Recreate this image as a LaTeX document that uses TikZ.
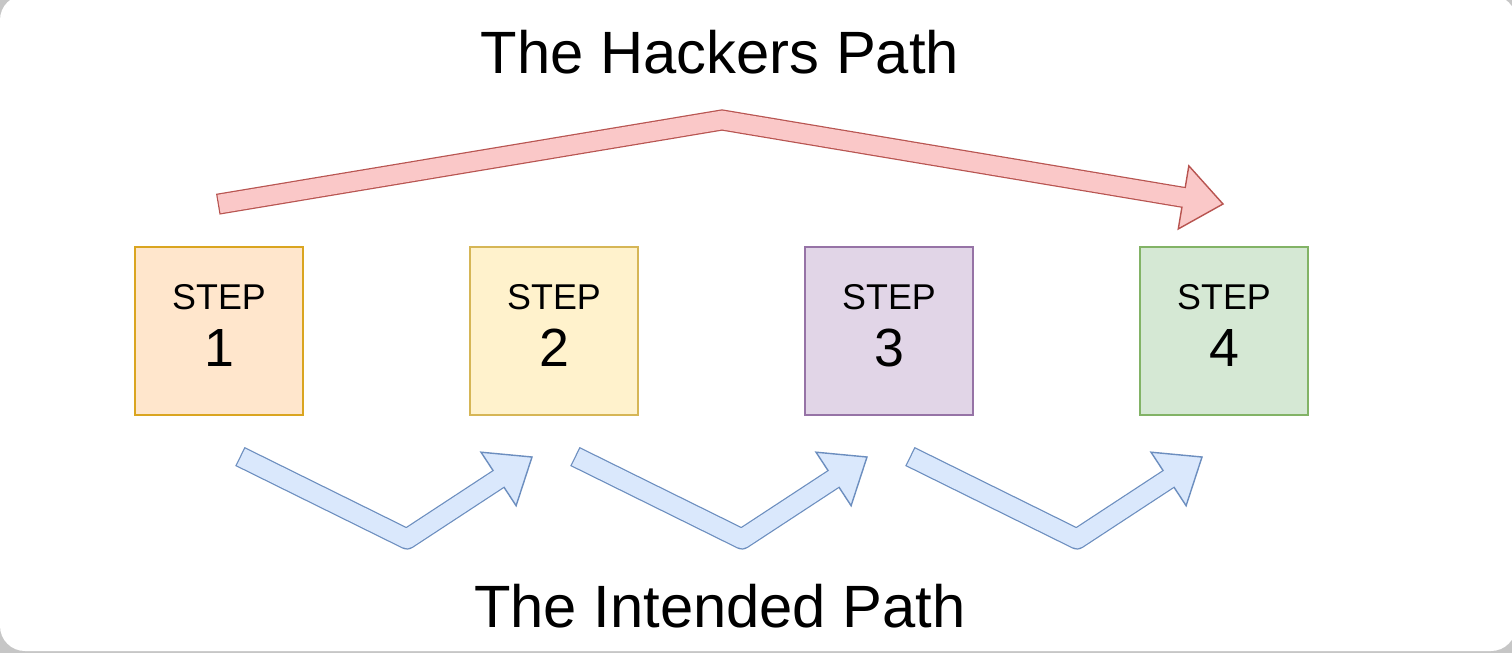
\documentclass[tikz,border=0pt]{standalone}
\usepackage{fontspec}
\setmainfont{Liberation Sans}
\usetikzlibrary{calc}
\definecolor{oneF}{HTML}{FFE6CC}\definecolor{oneD}{HTML}{DAA520}
\definecolor{twoF}{HTML}{FFF2CC}\definecolor{twoD}{HTML}{D6B656}
\definecolor{thrF}{HTML}{E1D5E7}\definecolor{thrD}{HTML}{9673A6}
\definecolor{fouF}{HTML}{D5E8D4}\definecolor{fouD}{HTML}{82B366}
\definecolor{redF}{HTML}{FAC8C8}\definecolor{redD}{HTML}{B85450}
\definecolor{bluF}{HTML}{DAE8FC}\definecolor{bluD}{HTML}{6C8EBF}
\newcommand{\fatarrow}[6]{%
  \coordinate (#3-b) at ($(#3)!0.8cm!(#2)$);
  \coordinate (#3-l) at ($(#3-b)!0.64cm!90:(#3)$);
  \coordinate (#3-r) at ($(#3-b)!0.64cm!-90:(#3)$);
  \draw[draw=#5, line width=12pt, line join=#6] ($(#1)!-0.7pt!(#2)$) -- (#2) -- (#3-b);
  \filldraw[fill=#4, draw=#5, line width=0.8pt, line join=miter] (#3-l) -- (#3) -- (#3-r) -- cycle;
  \draw[draw=#4, line width=10.6pt, line join=#6] (#1) -- (#2) -- ($(#3-b)!0.15!(#3)$);
}
\begin{document}
\begin{tikzpicture}[x=0.02cm,y=-0.02cm,
  stepbox/.style={draw, line width=0.85pt, minimum width=3.36cm, minimum height=3.36cm, inner sep=0pt},
  steplbl/.style={anchor=base, inner sep=0pt, font=\fontsize{20.4}{24}\selectfont},
  stepnum/.style={anchor=base, inner sep=0pt, font=\fontsize{30.6}{36}\selectfont},
  title/.style={anchor=base, inner sep=0pt, font=\fontsize{34}{40}\selectfont}]
\useasboundingbox (0,0) rectangle (1512,653);
\fill[gray!45] (0,0) rectangle (1512,653);
\fill[white, rounded corners=0.5cm] (0,-5) rectangle (1516,651);

\node[title] (hack) at (720,73) {The Hackers Path};
\node[title] (intd) at (720,627) {The Intended Path};

\node[stepbox, fill=oneF, draw=oneD] (s1) at (219,331) {};
\node[stepbox, fill=twoF, draw=twoD] (s2) at (554,331) {};
\node[stepbox, fill=thrF, draw=thrD] (s3) at (889,331) {};
\node[stepbox, fill=fouF, draw=fouD] (s4) at (1224,331) {};
\foreach \i in {1,2,3,4}{
  \node[steplbl] (s\i-t) at ($(s\i.center)+(0,-22)$) {STEP};
  \node[stepnum] (s\i-n) at ($(s\i.center)+(0,35)$) {\i};
}

% hackers path
\coordinate (ht) at (219,204);
\coordinate (hv) at (722,120);
\coordinate (hp) at (1223,204);
\fatarrow{ht}{hv}{hp}{redF}{redD}{miter}

% intended path
\foreach \k in {0,1,2}{
  \coordinate (it\k) at (241+335*\k,457);
  \coordinate (iv\k) at (407+335*\k,539);
  \coordinate (ip\k) at (532+335*\k,457);
  \fatarrow{it\k}{iv\k}{ip\k}{bluF}{bluD}{round}
}
\end{tikzpicture}
\end{document}
